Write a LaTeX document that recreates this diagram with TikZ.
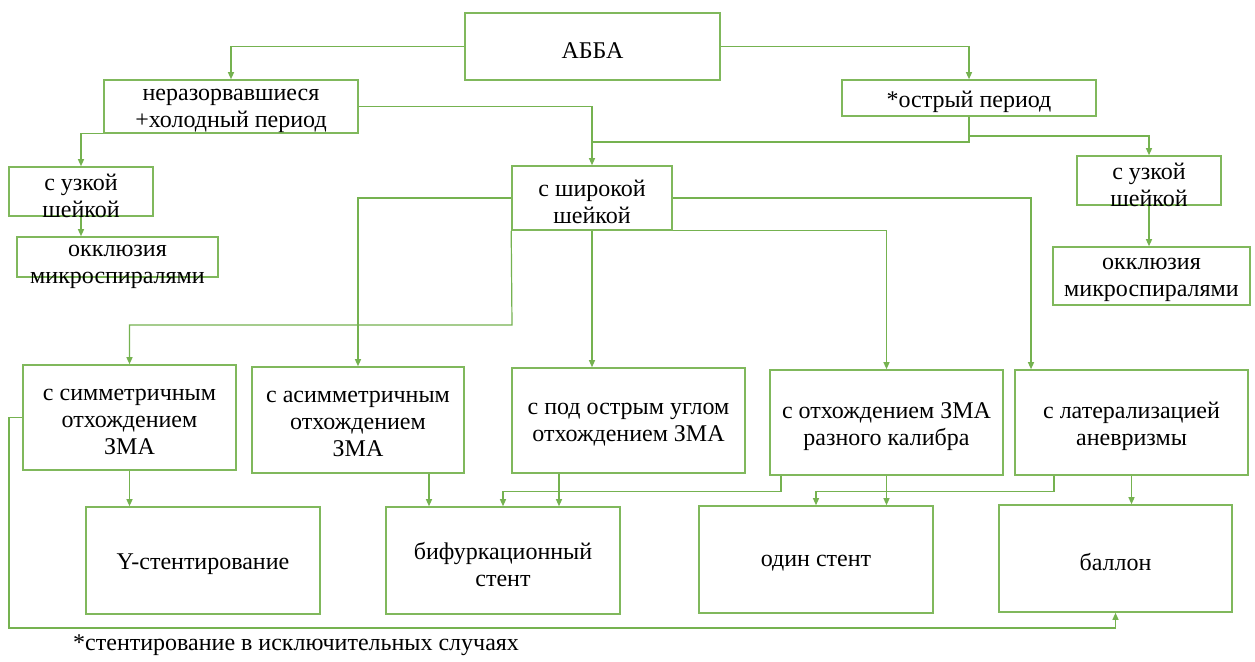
\documentclass[tikz,border=0pt]{standalone}
\usepackage{fontspec}
\setmainfont{Liberation Serif}
\usetikzlibrary{arrows.meta,calc}
\definecolor{gline}{RGB}{117,178,80}
\definecolor{gbox}{RGB}{128,184,92}
\newcommand\bx[7][-4pt]{\node[box,minimum width=#5pt,minimum height=#6pt,label={[txt,yshift=#1]center:{#7}}] (#2) at (#3,#4) {};}
\begin{document}
\begin{tikzpicture}[x=1pt,y=-1pt,
  box/.style={draw=gbox,line width=1.6pt,inner sep=0pt,rectangle,fill=white},
  txt/.style={font=\fontsize{24}{27}\selectfont,align=center,inner sep=0pt,text=black},
  arr/.style={draw=gline,line width=1.2pt,-{Triangle[length=7pt,width=6pt]}},
  ln/.style={draw=gline,line width=1.2pt}]
\useasboundingbox[fill=white] (0,0) rectangle (1255,661);

% level 0-2
\bx{abba}{592.5}{46.5}{255}{67}{АББА}
\bx{ner}{231}{106.5}{254}{53}{неразорвавшиеся\\+холодный период}
\bx{ostr}{969}{98}{254}{36}{*острый период}
\bx{uzL}{81}{191.5}{144}{49}{с узкой\\шейкой}
\bx[-10pt]{okkL}{117.5}{257}{201}{40}{окклюзия\\микроспиралями}
\bx{uzR}{1149}{180.5}{144}{49}{с узкой\\шейкой}
\bx{okkR}{1151.5}{276}{197}{58}{окклюзия\\микроспиралями}
\bx{ship}{592}{198}{160}{64}{с широкой\\шейкой}

% level 3
\bx{sym}{129.5}{417.5}{213}{105}{с симметричным\\отхождением\\ЗМА}
\bx{asym}{358}{420}{212}{106}{с асимметричным\\отхождением\\ЗМА}
\bx{acute}{628.5}{420.5}{233}{105}{с под острым углом\\отхождением ЗМА}
\bx{diff}{886.5}{422.5}{233}{105}{с отхождением ЗМА\\разного калибра}
\bx{lat}{1131.5}{422.5}{233}{105}{с латерализацией\\аневризмы}

% level 4
\bx{ystent}{203}{560.5}{234}{107}{Y-стентирование}
\bx{bif}{503}{560.5}{234}{107}{бифуркационный\\стент}
\bx{one}{816}{559.5}{234}{107}{один стент}
\bx{ball}{1115.5}{558.5}{233}{107}{баллон}

% helper coordinates
\coordinate (j1) at (592,142);
\coordinate (j2) at (969,136);
\coordinate (j3) at (512,325);
\coordinate (p1) at (429,0);
\coordinate (p2) at (559,0);
\coordinate (p3) at (781,0);
\coordinate (p4) at (1054,0);
\coordinate (p5) at (1031,0);
\coordinate (fb) at (9,628);

% connectors
\draw[arr] (abba.west) -| (ner.north);
\draw[arr] (abba.east) -| (ostr.north);
\draw[arr] (ner.east) -| (ship.north);
\draw[ln] (ostr.south) |- (j1);
\draw[arr] (j2) -| (uzR.north);
\draw[arr] (ner.south west) -| (uzL.north);
\draw[arr] (uzL.south) -- (uzL.south |- okkL.north);
\draw[arr] (uzR.south) -- (uzR.south |- okkR.north);

\draw[arr] (ship.west) -| (asym.north);
\draw[arr] (ship.south west) -- (j3) -| (sym.north);
\draw[arr] (ship.south) -- (ship.south |- acute.north);
\draw[arr] (ship.east) -| (lat.north -| p5);
\draw[arr] (ship.south east) -| (diff.north);

\draw[arr] (sym.south) -- (sym.south |- ystent.north);
\draw[arr] (asym.south -| p1) -- (bif.north -| p1);
\draw[arr] (acute.south -| p2) -- (bif.north -| p2);
\draw[arr] (diff.south -| p3) -- ++(0,16) -| (bif.north);
\draw[arr] (diff.south) -- (diff.south |- one.north);
\draw[arr] (lat.south -| p4) -- ++(0,16) -| (one.north);
\draw[arr] (lat.south) -- (lat.south |- ball.north);
\draw[arr] (sym.west) -| (fb) -| (ball.south);

\node[txt,anchor=west] (note) at (73,645) {*стентирование в исключительных случаях};
\end{tikzpicture}
\end{document}
